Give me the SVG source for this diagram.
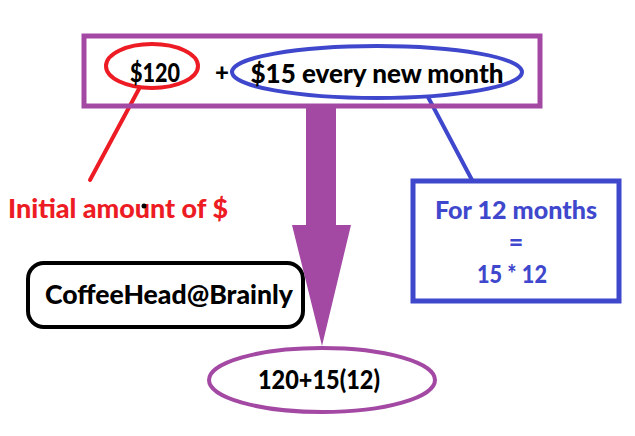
<svg xmlns="http://www.w3.org/2000/svg" width="635" height="436" viewBox="0 0 635 436">
<style>
text{font-family:Lato,"Open Sans","Liberation Sans",sans-serif;font-weight:900;text-anchor:middle}
.k{fill:#000}
.r{fill:#ed1c24}
.b{fill:#3f48cc}
</style>
<rect width="635" height="436" fill="#fff"/>
<g id="connectors" fill="none">
<line x1="140" y1="87" x2="90" y2="180" stroke="#ed1c24" stroke-width="4" stroke-linecap="round"/>
<line x1="428" y1="97" x2="472" y2="180" stroke="#3f48cc" stroke-width="4" stroke-linecap="round"/>
</g>
<g id="top">
<rect x="84" y="36" width="456" height="70" fill="none" stroke="#a349a4" stroke-width="5"/>
<ellipse cx="152" cy="66" rx="46" ry="22" fill="#fff" stroke="#ed1c24" stroke-width="4"/>
<text class="k" x="155" y="82" font-size="26" textLength="50" lengthAdjust="spacingAndGlyphs">$120</text>
<text class="k" x="222" y="81" font-size="24">+</text>
<ellipse cx="377" cy="72" rx="145" ry="26" fill="#fff" stroke="#3f48cc" stroke-width="4"/>
<text class="k" x="377" y="83" font-size="26" textLength="253" lengthAdjust="spacingAndGlyphs">$15 every new month</text>
</g>
<g id="initial">
<text class="r" x="118" y="218" font-size="27" textLength="220" lengthAdjust="spacingAndGlyphs">Initial amount of $</text>
<circle cx="144" cy="206" r="2.5" fill="#000"/>
</g>
<g id="months">
<rect x="413" y="181" width="206" height="120" fill="#fff" stroke="#3f48cc" stroke-width="5"/>
<text class="b" x="516" y="219" font-size="25" textLength="162" lengthAdjust="spacingAndGlyphs">For 12 months</text>
<text class="b" x="516" y="251" font-size="25">=</text>
<text class="b" x="512" y="283" font-size="25" textLength="70" lengthAdjust="spacingAndGlyphs">15 * 12</text>
</g>
<g id="signature">
<rect x="28" y="263" width="275" height="64" rx="16" fill="#fff" stroke="#000" stroke-width="4"/>
<text class="k" x="169" y="304" font-size="27" textLength="248" lengthAdjust="spacingAndGlyphs">CoffeeHead@Brainly</text>
</g>
<g id="arrow">
<polygon points="306,106 336,106 336,225 351,225 322,346 292,225 306,225" fill="#a349a4"/>
</g>
<g id="result">
<ellipse cx="322" cy="380" rx="113" ry="32" fill="#fff" stroke="#a349a4" stroke-width="4"/>
<text class="k" x="319" y="389" font-size="26" textLength="122" lengthAdjust="spacingAndGlyphs">120+15(12)</text>
</g>
</svg>
